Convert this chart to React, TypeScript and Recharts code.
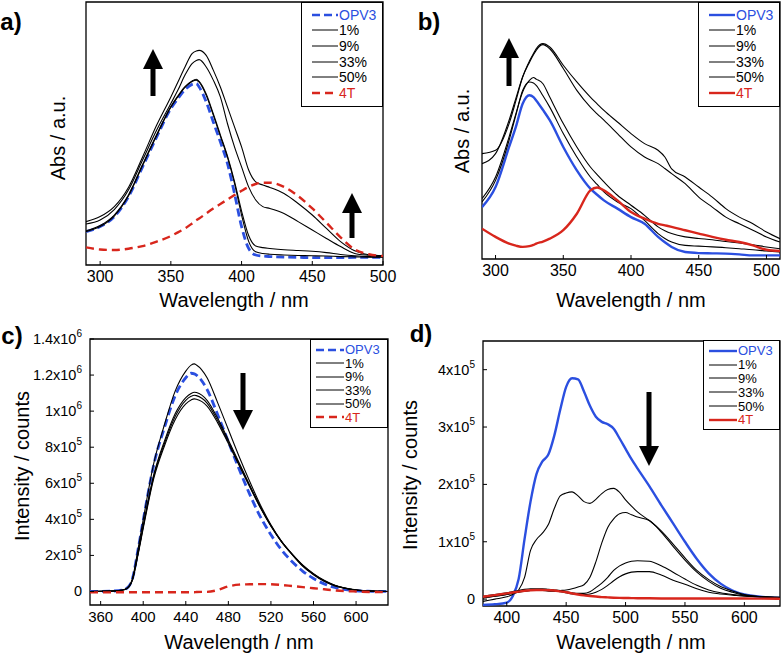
import React from 'react';
import { LineChart, Line, XAxis, YAxis, ReferenceArea, Legend } from 'recharts';

const FONT = '"Liberation Sans", Arial, Helvetica, sans-serif';
const BLUE = '#2b4fe0';
const RED = '#d8261c';

const seriesNames = ['OPV3', '1%', '9%', '33%', '50%', '4T'];

// a) absorption (normalised)
const wlA = [290, 300, 310, 320, 330, 340, 350, 355, 360, 365, 368, 370, 375, 380, 385, 390, 395, 400, 405, 410, 415, 420, 430, 440, 450, 460, 470, 480, 490, 500];
const absA_opv3 = [0.127, 0.146, 0.184, 0.259, 0.373, 0.487, 0.595, 0.633, 0.667, 0.687, 0.69, 0.677, 0.62, 0.544, 0.468, 0.386, 0.272, 0.146, 0.063, 0.038, 0.034, 0.032, 0.03, 0.029, 0.028, 0.028, 0.028, 0.029, 0.029, 0.029];
const absA_1 = [0.127, 0.146, 0.186, 0.262, 0.378, 0.492, 0.6, 0.64, 0.675, 0.698, 0.703, 0.695, 0.645, 0.57, 0.49, 0.41, 0.31, 0.19, 0.09, 0.05, 0.044, 0.041, 0.038, 0.036, 0.035, 0.034, 0.032, 0.031, 0.03, 0.03];
const absA_9 = [0.13, 0.15, 0.19, 0.266, 0.382, 0.496, 0.603, 0.643, 0.678, 0.7, 0.706, 0.698, 0.65, 0.575, 0.495, 0.415, 0.318, 0.205, 0.112, 0.072, 0.066, 0.063, 0.058, 0.055, 0.052, 0.047, 0.04, 0.035, 0.032, 0.031];
const absA_33 = [0.156, 0.171, 0.211, 0.285, 0.399, 0.513, 0.614, 0.665, 0.722, 0.766, 0.778, 0.781, 0.753, 0.703, 0.639, 0.538, 0.449, 0.373, 0.297, 0.247, 0.222, 0.215, 0.196, 0.165, 0.133, 0.101, 0.07, 0.044, 0.037, 0.034];
const absA_50 = [0.165, 0.184, 0.222, 0.295, 0.411, 0.532, 0.639, 0.696, 0.753, 0.804, 0.814, 0.816, 0.797, 0.741, 0.677, 0.601, 0.525, 0.449, 0.361, 0.316, 0.304, 0.295, 0.272, 0.234, 0.19, 0.139, 0.089, 0.054, 0.039, 0.035];
const absA_4t = [0.067, 0.059, 0.057, 0.062, 0.072, 0.089, 0.11, 0.124, 0.139, 0.158, 0.17, 0.177, 0.196, 0.215, 0.232, 0.249, 0.266, 0.282, 0.297, 0.308, 0.313, 0.313, 0.297, 0.262, 0.215, 0.161, 0.105, 0.059, 0.041, 0.034];
const ticksA = [300, 350, 400, 450, 500];

// b) absorption (normalised)
const wlB = [290, 300, 310, 315, 320, 325, 328, 330, 335, 340, 350, 360, 370, 375, 380, 390, 400, 410, 420, 425, 430, 440, 450, 460, 470, 480, 490, 500, 510];
const absB_opv3 = [0.202, 0.28, 0.436, 0.514, 0.604, 0.637, 0.63, 0.617, 0.58, 0.54, 0.436, 0.345, 0.274, 0.25, 0.228, 0.196, 0.163, 0.137, 0.086, 0.065, 0.047, 0.027, 0.023, 0.022, 0.021, 0.018, 0.014, 0.014, 0.014];
const absB_1 = [0.222, 0.306, 0.462, 0.56, 0.656, 0.689, 0.685, 0.676, 0.635, 0.591, 0.488, 0.397, 0.319, 0.29, 0.261, 0.222, 0.196, 0.15, 0.099, 0.08, 0.066, 0.053, 0.05, 0.047, 0.044, 0.04, 0.036, 0.031, 0.027];
const absB_9 = [0.235, 0.319, 0.475, 0.565, 0.65, 0.695, 0.706, 0.7, 0.682, 0.63, 0.527, 0.436, 0.358, 0.328, 0.3, 0.248, 0.209, 0.17, 0.125, 0.11, 0.099, 0.086, 0.08, 0.075, 0.068, 0.062, 0.055, 0.047, 0.04];
const absB_33 = [0.371, 0.41, 0.54, 0.625, 0.708, 0.765, 0.795, 0.812, 0.834, 0.818, 0.741, 0.656, 0.591, 0.565, 0.54, 0.488, 0.436, 0.397, 0.371, 0.352, 0.332, 0.293, 0.241, 0.202, 0.163, 0.137, 0.112, 0.086, 0.066];
const absB_50 = [0.41, 0.423, 0.527, 0.615, 0.708, 0.77, 0.8, 0.818, 0.838, 0.825, 0.754, 0.689, 0.63, 0.604, 0.578, 0.533, 0.488, 0.449, 0.423, 0.397, 0.351, 0.319, 0.28, 0.241, 0.196, 0.163, 0.137, 0.105, 0.079];
const absB_4t = [0.118, 0.086, 0.06, 0.052, 0.047, 0.05, 0.055, 0.06, 0.068, 0.079, 0.112, 0.176, 0.267, 0.278, 0.267, 0.228, 0.183, 0.157, 0.137, 0.131, 0.125, 0.112, 0.099, 0.086, 0.075, 0.066, 0.053, 0.036, 0.031];
const ticksB = [300, 350, 400, 450, 500];

// c) emission, counts
const wlC = [350, 370, 380, 385, 390, 395, 400, 410, 420, 430, 440, 445, 448, 450, 460, 470, 480, 490, 500, 510, 520, 530, 540, 550, 560, 570, 580, 590, 600, 615, 630];
const emC_opv3 = [0, 2000, 8000, 20000, 74000, 228000, 395000, 705000, 910000, 1085000, 1185000, 1210000, 1207000, 1200000, 1120000, 980000, 830000, 680000, 540000, 415000, 315000, 230000, 165000, 112000, 72000, 42000, 22000, 10000, 4000, 1000, 0];
const emC_1 = [0, 2000, 8000, 20000, 74000, 231000, 398000, 713000, 926000, 1111000, 1222000, 1255000, 1262000, 1256000, 1185000, 1046000, 898000, 750000, 611000, 481000, 370000, 278000, 204000, 139000, 93000, 56000, 31000, 17000, 7000, 2000, 0];
const emC_9 = [0, 2000, 7000, 18000, 68000, 210000, 365000, 650000, 835000, 985000, 1075000, 1098000, 1105000, 1103000, 1060000, 960000, 840000, 715000, 590000, 470000, 365000, 275000, 205000, 142000, 95000, 58000, 33000, 18000, 8000, 2000, 0];
const emC_33 = [0, 2000, 7000, 18000, 67000, 205000, 358000, 640000, 822000, 970000, 1060000, 1082000, 1088000, 1086000, 1045000, 948000, 830000, 708000, 585000, 468000, 364000, 276000, 206000, 144000, 97000, 60000, 34000, 18000, 8000, 2000, 0];
const emC_50 = [0, 2000, 7000, 17000, 66000, 200000, 350000, 628000, 808000, 952000, 1040000, 1062000, 1068000, 1066000, 1028000, 935000, 820000, 700000, 580000, 465000, 362000, 276000, 207000, 146000, 99000, 62000, 35000, 19000, 9000, 2000, 0];
const emC_4t = [-5000, -5000, -4000, -4000, -4000, -4000, -4000, -4000, -4000, -4000, -4000, -4000, -4000, -3000, -2000, 8000, 28000, 38000, 40000, 41000, 40000, 36000, 30000, 24000, 18000, 12000, 6000, 2000, 0, -3000, -4000];
const ticksCx = [360, 400, 440, 480, 520, 560, 600];
const ticksCy = [0, 200000, 400000, 600000, 800000, 1000000, 1200000, 1400000];

// d) emission, counts
const wlD = [380, 390, 400, 405, 410, 415, 420, 425, 430, 435, 440, 445, 450, 455, 460, 465, 470, 475, 480, 485, 490, 495, 500, 505, 510, 520, 530, 540, 550, 560, 570, 580, 590, 600, 615, 630];
const emD_opv3 = [-10000, -9000, -6000, 5000, 35000, 105000, 170000, 218000, 240000, 252000, 285000, 330000, 370000, 385000, 383000, 362000, 337000, 318000, 309000, 305000, 297000, 280000, 262000, 244000, 228000, 197000, 164000, 132000, 100000, 70000, 45000, 27000, 15000, 8000, 4000, 2000];
const emD_1 = [-4000, 0, 4000, 8000, 16000, 38000, 85000, 104000, 115000, 130000, 158000, 180000, 185000, 187000, 180000, 170000, 167000, 174000, 184000, 191000, 193000, 186000, 173000, 162000, 152000, 137000, 119000, 96000, 72000, 50000, 34000, 22000, 14000, 8000, 4000, 2000];
const emD_9 = [3000, 5000, 8000, 10000, 12000, 14000, 15000, 15000, 15000, 14000, 14000, 15000, 16000, 18000, 21000, 25000, 38000, 65000, 98000, 125000, 140000, 149000, 151000, 147000, 143000, 137000, 117000, 92000, 68000, 47000, 31000, 19000, 12000, 7000, 4000, 2000];
const emD_33 = [5000, 8000, 11000, 13000, 15000, 17000, 18000, 18000, 18000, 17000, 16000, 15000, 13000, 11000, 10000, 10000, 13000, 20000, 28000, 38000, 50000, 58000, 63000, 66000, 67000, 66000, 58000, 47000, 35000, 24000, 16000, 11000, 8000, 6000, 4000, 3000];
const emD_50 = [2000, 5000, 8000, 10000, 12000, 14000, 15000, 16000, 16000, 15000, 14000, 13000, 11000, 9000, 8000, 8000, 9000, 12000, 17000, 24000, 32000, 39000, 44000, 47000, 48000, 48000, 42000, 33000, 26000, 18000, 12000, 9000, 7000, 5000, 4000, 3000];
const emD_4t = [4000, 7000, 10000, 11500, 13000, 14500, 15500, 16000, 16000, 15500, 15000, 13500, 12000, 10000, 8000, 6500, 5500, 4500, 3500, 3000, 2500, 2200, 2000, 1800, 1600, 1400, 1200, 1000, 1000, 1000, 1000, 1000, 1000, 1000, 800, 500];
const ticksDx = [400, 450, 500, 550, 600];
const ticksDy = [0, 100000, 200000, 300000, 400000];

type Row = { [k: string]: number };
const rows = (wl: number[], cols: number[][]): Row[] =>
  wl.map((w, i) => {
    const r: Row = { w };
    seriesNames.forEach((n, k) => (r[n] = cols[k][i]));
    return r;
  });

type SeriesStyle = { color: string; width: number; dash?: string; text: string };
const styleFor = (name: string, dashed: boolean): SeriesStyle => {
  if (name === 'OPV3') return { color: BLUE, width: dashed ? 2.8 : 2.4, dash: dashed ? '8 4' : undefined, text: BLUE };
  if (name === '4T') return { color: RED, width: 2.4, dash: dashed ? '8 5' : undefined, text: RED };
  return { color: '#000', width: 1.1, text: '#000' };
};

const SciTick = (props: any) => {
  const { x, y, payload } = props;
  const v = payload.value as number;
  if (v === 0) {
    return (
      <text x={x} y={y} dy={5} textAnchor="end" fontSize={14.5} fill="#000" fontFamily={FONT}>0</text>
    );
  }
  const exp = Math.floor(Math.log10(v) + 1e-9);
  const m = +(v / Math.pow(10, exp)).toFixed(1);
  return (
    <text x={x} y={y} dy={5} textAnchor="end" fontSize={14.5} fill="#000" fontFamily={FONT}>
      <tspan>{`${m}x10`}</tspan>
      <tspan dy={-7} fontSize={10}>{exp}</tspan>
    </text>
  );
};

type LegendPos = { left: number; top: number; width: number; height: number; fontSize: number; rowH: number; padTop: number; lineX: number; lineLen: number };

const LegendBox = ({ pos, dashed }: { pos: LegendPos; dashed: boolean }) => (
  <div
    style={{
      boxSizing: 'border-box',
      width: pos.width,
      height: pos.height,
      border: '1.3px solid #000',
      background: '#fff',
      paddingTop: pos.padTop,
      fontFamily: FONT,
      fontSize: pos.fontSize,
      lineHeight: 1,
    }}
  >
    {seriesNames.map((n) => {
      const s = styleFor(n, dashed);
      return (
        <div key={n} style={{ display: 'flex', alignItems: 'center', height: pos.rowH }}>
          <svg width={pos.lineX + pos.lineLen} height={6} style={{ flex: 'none' }}>
            <line x1={pos.lineX} y1={3} x2={pos.lineX + pos.lineLen} y2={3} stroke={s.color} strokeWidth={s.color === '#000' ? 1 : 2.4} strokeDasharray={s.dash} />
          </svg>
          <span style={{ color: s.text, marginLeft: 1 }}>{n}</span>
        </div>
      );
    })}
  </div>
);

type PanelProps = {
  left: number;
  top: number;
  width: number;
  height: number;
  margin: { top: number; right: number; bottom: number; left: number };
  data: Row[];
  xDomain: [number, number];
  xTicks: number[];
  xTickFont: number;
  yDomain: [number, number];
  yTicks?: number[];
  yAxisWidth?: number;
  dashed: boolean;
  legend: LegendPos;
};

function Panel(p: PanelProps) {
  return (
    <div style={{ position: 'absolute', left: p.left, top: p.top }}>
      <LineChart width={p.width} height={p.height} data={p.data} margin={p.margin} style={{ fontFamily: FONT }}>
        <XAxis
          dataKey="w"
          type="number"
          domain={p.xDomain}
          ticks={p.xTicks}
          allowDataOverflow
          interval={0}
          axisLine={false}
          tickSize={-4}
          tickMargin={10}
          height={30}
          tick={{ fill: '#000', fontSize: p.xTickFont }}
          tickLine={{ stroke: '#000' }}
        />
        <XAxis
          xAxisId="top"
          orientation="top"
          type="number"
          domain={p.xDomain}
          ticks={p.xTicks}
          allowDataOverflow
          interval={0}
          axisLine={false}
          tick={false}
          tickSize={-4}
          height={1}
          tickLine={{ stroke: '#000' }}
        />
        {p.yTicks ? (
          <YAxis
            type="number"
            domain={p.yDomain}
            ticks={p.yTicks}
            allowDataOverflow
            interval={0}
            axisLine={false}
            tickSize={-4}
            tickMargin={12}
            width={p.yAxisWidth}
            tick={<SciTick />}
            tickLine={{ stroke: '#000' }}
          />
        ) : (
          <YAxis type="number" domain={p.yDomain} allowDataOverflow hide />
        )}
        {p.yTicks && (
          <YAxis
            yAxisId="right"
            orientation="right"
            type="number"
            domain={p.yDomain}
            ticks={p.yTicks}
            allowDataOverflow
            interval={0}
            axisLine={false}
            tick={false}
            tickSize={-4}
            width={1}
            tickLine={{ stroke: '#000' }}
          />
        )}
        {seriesNames.map((n) => {
          const s = styleFor(n, p.dashed);
          return (
            <Line
              key={n}
              dataKey={n}
              name={n}
              type="monotone"
              stroke={s.color}
              strokeWidth={s.width}
              strokeDasharray={s.dash}
              dot={false}
              activeDot={false}
              isAnimationActive={false}
            />
          );
        })}
        <ReferenceArea
          x1={p.xDomain[0]}
          x2={p.xDomain[1]}
          y1={p.yDomain[0]}
          y2={p.yDomain[1]}
          fill="none"
          stroke="#000"
          strokeWidth={1.3}
          ifOverflow="visible"
        />
        <Legend
          layout="vertical"
          align="center"
          verticalAlign="middle"
          wrapperStyle={{ left: p.legend.left, top: p.legend.top, width: p.legend.width }}
          content={() => <LegendBox pos={p.legend} dashed={p.dashed} />}
        />
      </LineChart>
    </div>
  );
}

const arrow = (x: number, yTail: number, yTip: number) => {
  const d = yTip < yTail ? 1 : -1;
  const hb = yTip + d * 20;
  return [
    [x - 2.5, yTail],
    [x - 2.5, hb],
    [x - 10, hb],
    [x, yTip],
    [x + 10, hb],
    [x + 2.5, hb],
    [x + 2.5, yTail],
  ]
    .map((q) => q.join(','))
    .join(' ');
};

const txt = (s: string, cx: number, cy: number, size: number, rotate = false, bold = false) => (
  <div
    style={{
      position: 'absolute',
      left: cx,
      top: cy,
      transform: `translate(-50%, -50%)${rotate ? ' rotate(-90deg)' : ''}`,
      whiteSpace: 'nowrap',
      fontFamily: FONT,
      fontSize: size,
      fontWeight: bold ? 700 : 400,
      color: '#000',
      lineHeight: 1,
    }}
  >
    {s}
  </div>
);

export default function App() {
  const dataA = rows(wlA, [absA_opv3, absA_1, absA_9, absA_33, absA_50, absA_4t]);
  const dataB = rows(wlB, [absB_opv3, absB_1, absB_9, absB_33, absB_50, absB_4t]);
  const dataC = rows(wlC, [emC_opv3, emC_1, emC_9, emC_33, emC_50, emC_4t]);
  const dataD = rows(wlD, [emD_opv3, emD_1, emD_9, emD_33, emD_50, emD_4t]);

  return (
    <div style={{ position: 'fixed', left: 0, top: 0, width: 784, height: 655, background: '#fff', overflow: 'hidden' }}>
      <Panel
        left={0}
        top={0}
        width={402}
        height={320}
        margin={{ top: 1, right: 19, bottom: 25, left: 86 }}
        data={dataA}
        xDomain={[290, 500]}
        xTicks={ticksA}
        xTickFont={16}
        yDomain={[0, 1]}
        dashed
        legend={{ left: 301, top: 2, width: 82, height: 105, fontSize: 14, rowH: 15.6, padTop: 4, lineX: 10, lineLen: 26 }}
      />
      <Panel
        left={392}
        top={0}
        width={392}
        height={320}
        margin={{ top: 1, right: 4, bottom: 31, left: 90 }}
        data={dataB}
        xDomain={[290, 510]}
        xTicks={ticksB}
        xTickFont={16}
        yDomain={[0, 1]}
        dashed={false}
        legend={{ left: 306, top: 2, width: 82, height: 105, fontSize: 14, rowH: 15.6, padTop: 4, lineX: 10, lineLen: 26 }}
      />
      <Panel
        left={0}
        top={320}
        width={392}
        height={335}
        margin={{ top: 18, right: 3, bottom: 20, left: 0 }}
        data={dataC}
        xDomain={[350, 630]}
        xTicks={ticksCx}
        xTickFont={15}
        yDomain={[-75000, 1400000]}
        yTicks={ticksCy}
        yAxisWidth={90}
        dashed
        legend={{ left: 310, top: 19, width: 78, height: 89, fontSize: 13, rowH: 13.5, padTop: 3, lineX: 5, lineLen: 28 }}
      />
      <Panel
        left={392}
        top={320}
        width={392}
        height={335}
        margin={{ top: 20, right: 3, bottom: 19, left: 0 }}
        data={dataD}
        xDomain={[380, 630]}
        xTicks={ticksDx}
        xTickFont={16}
        yDomain={[-12000, 450000]}
        yTicks={ticksDy}
        yAxisWidth={91}
        dashed={false}
        legend={{ left: 311, top: 20, width: 77, height: 90, fontSize: 13, rowH: 13.8, padTop: 3, lineX: 5, lineLen: 28 }}
      />

      {txt('a)', 11, 22, 24, false, true)}
      {txt('b)', 429, 22, 24, false, true)}
      {txt('c)', 12, 336, 24, false, true)}
      {txt('d)', 421, 334, 24, false, true)}

      {txt('Wavelength / nm', 234, 300, 20)}
      {txt('Wavelength / nm', 631, 300, 20)}
      {txt('Wavelength / nm', 239, 642, 20)}
      {txt('Wavelength / nm', 631, 642, 20)}

      {txt('Abs / a.u.', 58, 138, 20, true)}
      {txt('Abs / a.u.', 462, 131, 20, true)}
      {txt('Intensity / counts', 22, 466, 20, true)}
      {txt('Intensity / counts', 410, 475, 20, true)}

      <svg width={784} height={655} style={{ position: 'absolute', left: 0, top: 0, pointerEvents: 'none' }}>
        <polygon points={arrow(153, 96, 49)} fill="#000" />
        <polygon points={arrow(352, 238, 193)} fill="#000" />
        <polygon points={arrow(509, 86, 38)} fill="#000" />
        <polygon points={arrow(243, 373, 430)} fill="#000" />
        <polygon points={arrow(649, 392, 466)} fill="#000" />
      </svg>
    </div>
  );
}
